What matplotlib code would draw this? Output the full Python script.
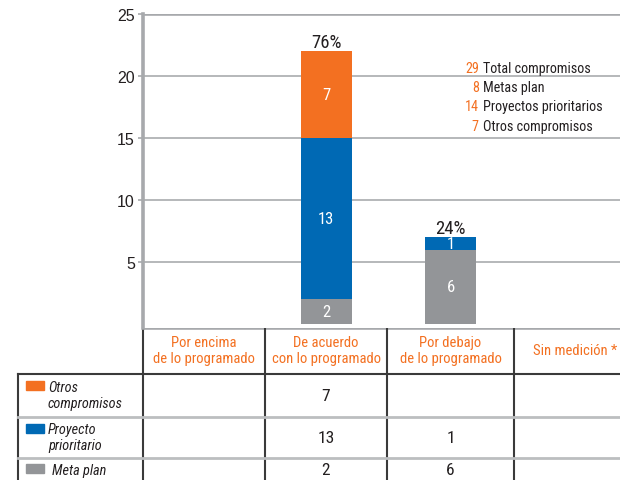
import matplotlib
matplotlib.use("Agg")
import matplotlib.pyplot as plt
from matplotlib import font_manager
from matplotlib.patches import Rectangle
import numpy as np

# ---------------- data ----------------
categories = ["Por encima\nde lo programado", "De acuerdo\ncon lo programado",
              "Por debajo\nde lo programado", "Sin medición *"]
series_names = ["Otros\ncompromisos", "Proyecto\nprioritario", "Meta plan"]
otros = [0, 7, 0, 0]
proyecto = [0, 13, 1, 0]
meta_plan = [0, 2, 6, 0]
percent_labels = ["", "76%", "24%", ""]
summary_numbers = ["29", "8", "14", "7"]
summary_labels = ["Total compromisos", "Metas plan", "Proyectos prioritarios", "Otros compromisos"]
yticks = [5, 10, 15, 20, 25]

# ---------------- style ----------------
ORANGE = "#F37021"
BLUE = "#0069B4"
GRAY = "#939598"
DARK = "#231F20"
GRID = "#B6B8BA"
SPINE = "#A7A9AC"

names = {f.name for f in font_manager.fontManager.ttflist}
narrow_pref = ["Roboto Condensed", "Archivo Narrow", "Liberation Sans Narrow",
               "Barlow Semi Condensed", "Asap Condensed"]
NARROW_NAME = next((n for n in narrow_pref if n in names), None)
if NARROW_NAME:
    NARROW = [NARROW_NAME, "DejaVu Sans"]
    FS = 1.0
else:
    NARROW = ["Liberation Sans", "DejaVu Sans"]
    FS = 0.85
REG = ["Liberation Sans", "DejaVu Sans"]

W, H = 620, 481
fig = plt.figure(figsize=(6.2, 4.81), dpi=100)

# layout in pixels
col_edges = [143, 265, 387, 514, 620]
plot_top, plot_bottom = 15, 329
bar_w = 51

ax = fig.add_axes([col_edges[0] / W, (H - plot_bottom) / H,
                   (col_edges[-1] - col_edges[0]) / W, (plot_bottom - plot_top) / H])
ax.set_xlim(col_edges[0], col_edges[-1])
ax.set_ylim(-0.32, 25)

centers = [(col_edges[i] + col_edges[i + 1]) / 2 for i in range(len(categories))]

m = np.array(meta_plan, float)
p = np.array(proyecto, float)
o = np.array(otros, float)

for y in yticks[:-1]:
    ax.axhline(y, color=GRID, lw=1.4, zorder=0)
ax.axhline(25, color=SPINE, lw=2.6, zorder=0)

ax.bar(centers, m, width=bar_w, color=GRAY, zorder=2)
ax.bar(centers, p, width=bar_w, bottom=m, color=BLUE, zorder=2)
ax.bar(centers, o, width=bar_w, bottom=m + p, color=ORANGE, zorder=2)

for vals, bottoms in ((m, np.zeros_like(m)), (p, m), (o, m + p)):
    for x, v, b in zip(centers, vals, bottoms):
        if v > 0:
            ax.text(x, b + v / 2, f"{int(v)}", ha="center", va="center", color="white",
                    fontsize=12 * FS, family=NARROW, zorder=3)

tot = m + p + o
for x, t, lab in zip(centers, tot, percent_labels):
    if lab:
        ax.annotate(lab, (x, t), xytext=(0, 0.5), textcoords="offset points",
                    ha="center", va="bottom", fontsize=13.5 * FS, family=NARROW, color=DARK)

# summary text
for i, (n, lab) in enumerate(zip(summary_numbers, summary_labels)):
    yy = 0.829 - i * 0.0615
    ax.text(0.704, yy, n, transform=ax.transAxes, ha="right", va="center",
            color=ORANGE, fontsize=10.2 * FS, family=NARROW)
    ax.text(0.7125, yy, lab, transform=ax.transAxes, ha="left", va="center",
            color=DARK, fontsize=10.2 * FS, family=NARROW)

ax.set_yticks(yticks)
ax.set_yticklabels([str(t) for t in yticks], fontsize=11.5, color=DARK, family=REG)
ax.tick_params(axis="y", length=3.8, width=1.2, color=SPINE, pad=2)
ax.set_xticks([])
for s in ("top", "right", "bottom"):
    ax.spines[s].set_visible(False)
ax.spines["left"].set_color(SPINE)
ax.spines["left"].set_linewidth(2.6)

# ---------------- table (pixel coordinates) ----------------
tab = fig.add_axes([0, 0, 1, 1], zorder=-1)
tab.set_xlim(0, W)
tab.set_ylim(H, 0)
tab.axis("off")

header_bottom = 375
row_edges = [375, 418, 459, 481]
label_left = 18
TLINE = "#3A3A3A"
LGRAY = "#BCBEC0"

tab.plot([col_edges[0], W], [plot_bottom, plot_bottom], color=SPINE, lw=2.6, solid_capstyle="butt")
for xe in col_edges[:-1]:
    tab.plot([xe, xe], [plot_bottom, H], color=TLINE, lw=1.5)
tab.plot([label_left, label_left], [header_bottom, H], color=TLINE, lw=1.5)
tab.plot([label_left, W], [header_bottom, header_bottom], color=TLINE, lw=1.5)
for ye in row_edges[1:-1]:
    tab.plot([label_left, W], [ye, ye], color=LGRAY, lw=2)

header_dx = [0, 0, 0, 8]
for c, cat, dx in zip(centers, categories, header_dx):
    tab.text(c + dx, 351, cat, ha="center", va="center", color=ORANGE, fontsize=10.5 * FS,
             family=NARROW, linespacing=1.25)

row_series = [o, p, m]
row_colors = [ORANGE, BLUE, GRAY]
row_text_y = [396, 438, 471]
swatch_y = [382, 425, 465]
for name, col, ty, sy, vals in zip(series_names, row_colors, row_text_y, swatch_y, row_series):
    tab.add_patch(Rectangle((26, sy), 18, 9, color=col))
    tx = 48 if "\n" in name else 52
    tab.text(tx, ty, name, ha="left", va="center", fontsize=10.3 * FS, style="italic",
             family=NARROW, color=DARK, linespacing=1.25)
    for c, v in zip(centers, vals):
        if v > 0:
            tab.text(c, ty + (1 if "\n" in name else 0), f"{int(v)}", ha="center", va="center",
                     fontsize=12.5 * FS, family=NARROW, color=DARK)

fig.savefig("out.png", dpi=100)
